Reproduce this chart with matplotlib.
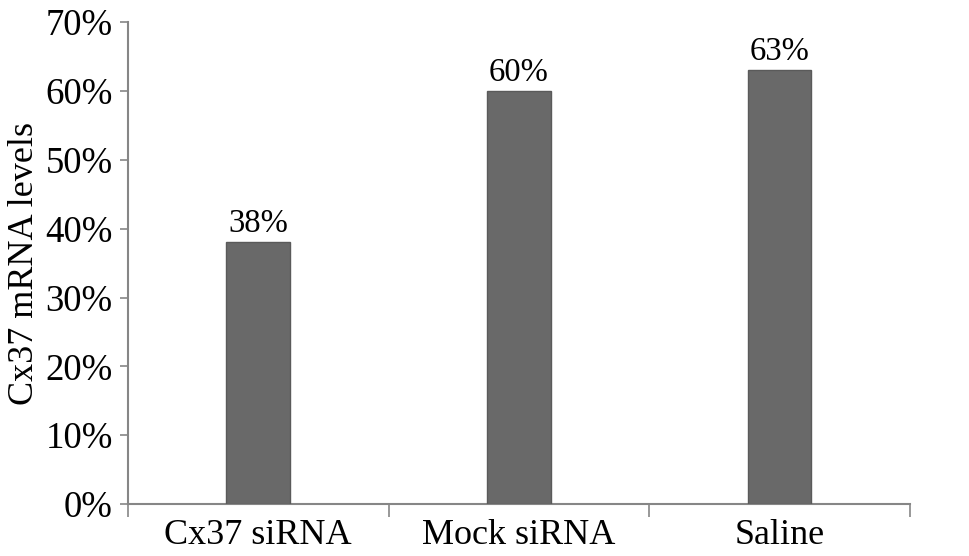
import matplotlib
matplotlib.use("Agg")
import matplotlib.pyplot as plt
from matplotlib.ticker import FuncFormatter

categories = ["Cx37 siRNA", "Mock siRNA", "Saline"]
values = [38, 60, 63]
value_labels = ["38%", "60%", "63%"]
yticks = [0, 10, 20, 30, 40, 50, 60, 70]

plt.rcParams['font.family'] = ['Liberation Serif', 'DejaVu Serif']

fig = plt.figure(figsize=(9.69, 5.56), dpi=100)
ax = fig.add_axes([0.132, 0.0935, 0.807, 0.8665])

axis_color = "#868686"
x = list(range(len(categories)))
bars = ax.bar(x, values, width=0.245, color="#696969", edgecolor="#5a5a5a", linewidth=1.0, zorder=3)

for xi, v, lab in zip(x, values, value_labels):
    ax.text(xi, v + 0.5, lab, ha="center", va="bottom", fontsize=23.5, color="black")

ax.set_xlim(-0.5, len(categories) - 0.5)
ax.set_ylim(0, 70)
ax.set_yticks(yticks)
ax.yaxis.set_major_formatter(FuncFormatter(lambda v, p: f"{int(v)}%"))
ax.tick_params(axis="y", labelsize=26.5, length=6, width=1.2, color=axis_color, pad=5)

ax.set_xticks(x)
ax.set_xticklabels(categories)
ax.tick_params(axis="x", which="major", length=0, labelsize=26, pad=11)
ax.set_xticks([-0.5 + i for i in range(len(categories) + 1)], minor=True)
ax.tick_params(axis="x", which="minor", length=9, width=1.2, color=axis_color, direction="out")

for s in ["top", "right"]:
    ax.spines[s].set_visible(False)
for s in ["left", "bottom"]:
    ax.spines[s].set_color(axis_color)
    ax.spines[s].set_linewidth(1.5)

ax.set_ylabel("Cx37 mRNA levels", fontsize=26, labelpad=3)

fig.savefig("out.png", dpi=100)
